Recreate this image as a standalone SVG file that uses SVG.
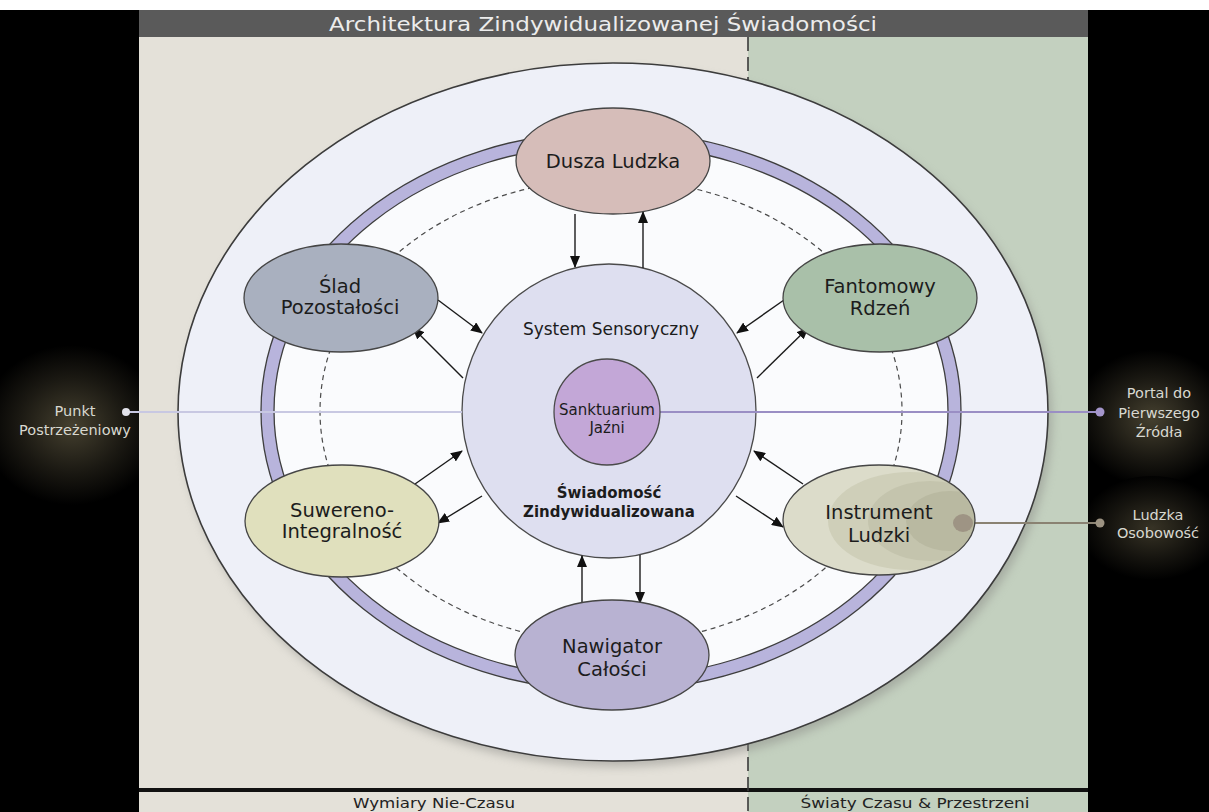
<svg xmlns="http://www.w3.org/2000/svg" width="1209" height="812" viewBox="0 0 1209 812">
<defs>
<style>
.node{stroke:#454545;stroke-width:1.3}
.lbl{font-family:"DejaVu Sans",Verdana,sans-serif;font-size:19.5px;fill:#1c1c1c;text-anchor:middle}
.side{font-family:"DejaVu Sans",Verdana,sans-serif;font-size:14.5px;fill:#d8d8d0;text-anchor:middle}
.arr{stroke:#1a1a1a;stroke-width:1.4;fill:none;marker-end:url(#ah)}
</style>
<marker id="ah" markerWidth="12" markerHeight="10" refX="11" refY="5" orient="auto" markerUnits="userSpaceOnUse">
<path d="M0,0 L12,5 L0,10 Z" fill="#111"/>
</marker>
<radialGradient id="glowL" cx="0.5" cy="0.5" r="0.5">
<stop offset="0" stop-color="#45402f"/>
<stop offset="0.6" stop-color="#1a1812"/>
<stop offset="1" stop-color="#000"/>
</radialGradient>
<filter id="sh" x="-10%" y="-10%" width="120%" height="120%">
<feGaussianBlur stdDeviation="5"/>
</filter>
<clipPath id="instClip"><ellipse cx="879" cy="520" rx="96" ry="55"/></clipPath>
</defs>

<!-- backgrounds -->
<rect x="0" y="0" width="1209" height="812" fill="#000"/>
<ellipse cx="72" cy="425" rx="90" ry="80" fill="url(#glowL)"/>
<ellipse cx="1152" cy="418" rx="78" ry="68" fill="url(#glowL)"/>
<ellipse cx="1152" cy="528" rx="72" ry="52" fill="url(#glowL)" opacity="0.8"/>
<rect x="0" y="0" width="1209" height="10" fill="#fff"/>
<rect x="139" y="10" width="949" height="27" fill="#5a5a5a"/>
<text x="603" y="31" font-family="DejaVu Sans,Verdana,sans-serif" font-size="19" fill="#ececec" text-anchor="middle" textLength="548" lengthAdjust="spacingAndGlyphs">Architektura Zindywidualizowanej Świadomości</text>
<rect x="139" y="37" width="609" height="752" fill="#e4e1d9"/>
<rect x="748" y="37" width="340" height="752" fill="#c3d0bf"/>
<rect x="139" y="788" width="949" height="4" fill="#111"/>
<rect x="139" y="792" width="609" height="20" fill="#e4e1d9"/>
<rect x="748" y="792" width="340" height="20" fill="#c3d0bf"/>
<line x1="748" y1="37" x2="748" y2="812" stroke="#3a3a3a" stroke-width="1.6" stroke-dasharray="14,6"/>
<text x="434" y="808" font-family="DejaVu Sans,Verdana,sans-serif" font-size="14" fill="#222" text-anchor="middle" textLength="162" lengthAdjust="spacingAndGlyphs">Wymiary Nie-Czasu</text>
<text x="915" y="808" font-family="DejaVu Sans,Verdana,sans-serif" font-size="14" fill="#222" text-anchor="middle" textLength="229" lengthAdjust="spacingAndGlyphs">Światy Czasu &amp; Przestrzeni</text>

<!-- outer structure -->
<g id="outer">
<ellipse cx="617" cy="418" rx="435" ry="349" fill="#8a8a86" opacity="0.5" filter="url(#sh)"/>
<ellipse cx="613" cy="412" rx="435" ry="349" fill="#eef0f8" stroke="#3c3c3c" stroke-width="1.6"/>
<ellipse cx="611" cy="411" rx="337" ry="267" fill="#fafbfd"/>
<ellipse cx="611" cy="411" rx="291" ry="232" fill="none" stroke="#4a4a4a" stroke-width="1.2" stroke-dasharray="5,4"/>
<path d="M261,411 a350,280 0 1,0 700,0 a350,280 0 1,0 -700,0 Z M274,411 a337,267 0 1,0 674,0 a337,267 0 1,0 -674,0 Z" fill="#b8b4dc" fill-rule="evenodd" stroke="#3e3e3e" stroke-width="1.3"/>
</g>

<!-- center circle -->
<g id="swiadomosc">
<circle cx="609" cy="411" r="147" fill="#dedff0" stroke="#4a4a4a" stroke-width="1.3"/>
<text x="611" y="335" class="lbl" style="font-size:17px">System Sensoryczny</text>
<text x="609" y="498" class="lbl" style="font-size:15px;font-weight:bold">Świadomość</text>
<text x="609" y="517" class="lbl" style="font-size:15px;font-weight:bold">Zindywidualizowana</text>
</g>

<!-- connectors -->
<g id="connectors">
<line x1="126" y1="412" x2="462" y2="412" stroke="#c8c8e2" stroke-width="2"/>
<line x1="660" y1="412" x2="1100" y2="412" stroke="#9a8ec4" stroke-width="2"/>
<line x1="963" y1="523" x2="1100" y2="523" stroke="#8a8272" stroke-width="2"/>
<line class="arr" x1="575" y1="214" x2="575" y2="267"/>
<line class="arr" x1="643" y1="268" x2="643" y2="212"/>
<line class="arr" x1="582" y1="603" x2="582" y2="556"/>
<line class="arr" x1="640" y1="555" x2="640" y2="603"/>
<line class="arr" x1="438" y1="300" x2="482" y2="333"/>
<line class="arr" x1="463" y1="378" x2="413" y2="328"/>
<line class="arr" x1="784" y1="300" x2="737" y2="333"/>
<line class="arr" x1="757" y1="378" x2="808" y2="328"/>
<line class="arr" x1="415" y1="484" x2="462" y2="451"/>
<line class="arr" x1="482" y1="496" x2="438" y2="523"/>
<line class="arr" x1="803" y1="484" x2="754" y2="451"/>
<line class="arr" x1="736" y1="496" x2="783" y2="527"/>
<circle cx="126" cy="412" r="4" fill="#e2e2ea"/>
<circle cx="1100" cy="412" r="4.5" fill="#a596cc"/>
<circle cx="1100" cy="523" r="4.5" fill="#9d9382"/>
</g>

<g id="sanktuarium">
<circle cx="607" cy="412" r="53" fill="#c3a7d7" stroke="#4a4a4a" stroke-width="1.3"/>
<text x="607" y="415" class="lbl" style="font-size:15px">Sanktuarium</text>
<text x="607" y="433" class="lbl" style="font-size:15px">Jaźni</text>
</g>

<g id="dusza">
<ellipse class="node" cx="613" cy="161" rx="97" ry="53" fill="#d6bdb9"/>
<text x="613" y="168" class="lbl">Dusza Ludzka</text>
</g>

<g id="slad">
<ellipse class="node" cx="341" cy="298" rx="97" ry="54" fill="#a9b0bf"/>
<text x="340" y="293" class="lbl">Ślad</text>
<text x="340" y="314" class="lbl">Pozostałości</text>
</g>

<g id="fantomowy">
<ellipse class="node" cx="880" cy="298" rx="97" ry="54" fill="#a9c0a9"/>
<text x="880" y="293" class="lbl">Fantomowy</text>
<text x="880" y="315" class="lbl">Rdzeń</text>
</g>

<g id="suwereno">
<ellipse class="node" cx="342" cy="521" rx="97" ry="56" fill="#e0e0bd"/>
<text x="342" y="517" class="lbl">Suwereno-</text>
<text x="342" y="538" class="lbl">Integralność</text>
</g>

<g id="instrument">
<ellipse cx="879" cy="520" rx="96" ry="55" fill="#dcdcca"/>
<g clip-path="url(#instClip)">
<ellipse cx="910" cy="521" rx="82" ry="49" fill="#cfcfb9"/>
<ellipse cx="930" cy="521" rx="62" ry="40" fill="#c4c4ad"/>
<ellipse cx="950" cy="521" rx="44" ry="30" fill="#b9b9a1"/>
</g>
<ellipse class="node" cx="879" cy="520" rx="96" ry="55" fill="none"/>
<ellipse cx="963" cy="523" rx="10" ry="9" fill="#9e9484"/>
<text x="879" y="519" class="lbl">Instrument</text>
<text x="879" y="542" class="lbl">Ludzki</text>
</g>

<g id="nawigator">
<ellipse class="node" cx="612" cy="655" rx="97" ry="55" fill="#b8b2d2"/>
<text x="612" y="653" class="lbl">Nawigator</text>
<text x="612" y="676" class="lbl">Całości</text>
</g>

<g id="labels">
<text x="75" y="416" class="side">Punkt</text>
<text x="75" y="435" class="side">Postrzeżeniowy</text>
<text x="1159" y="398" class="side">Portal do</text>
<text x="1159" y="418" class="side">Pierwszego</text>
<text x="1159" y="437" class="side">Źródła</text>
<text x="1158" y="520" class="side">Ludzka</text>
<text x="1158" y="538" class="side">Osobowość</text>
</g>
</svg>
